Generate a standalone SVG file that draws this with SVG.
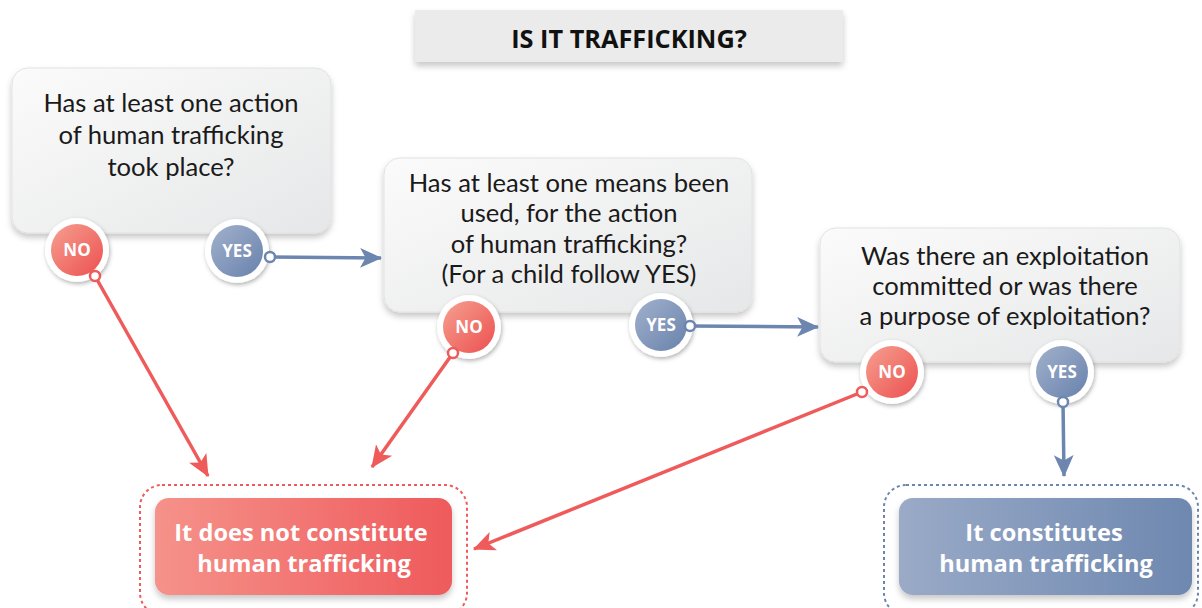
<svg xmlns="http://www.w3.org/2000/svg" width="1202" height="608" viewBox="0 0 1202 608">
<defs>
<linearGradient id="boxg" x1="0" y1="0" x2="1" y2="1"><stop offset="0" stop-color="#fbfbfb"/><stop offset="1" stop-color="#e6e7e8"/></linearGradient>
<linearGradient id="redc" x1="0" y1="0" x2="1" y2="1"><stop offset="0" stop-color="#f6a090"/><stop offset="1" stop-color="#ec5050"/></linearGradient>
<linearGradient id="bluec" x1="0" y1="0" x2="1" y2="1"><stop offset="0" stop-color="#a2b1cc"/><stop offset="1" stop-color="#6882ac"/></linearGradient>
<linearGradient id="redr" x1="0" y1="0" x2="1" y2="0"><stop offset="0" stop-color="#f5928a"/><stop offset="1" stop-color="#ef5a5c"/></linearGradient>
<linearGradient id="bluer" x1="0" y1="0" x2="1" y2="0"><stop offset="0" stop-color="#9aaac7"/><stop offset="1" stop-color="#6e88b0"/></linearGradient>
<filter id="sh" x="-20%" y="-20%" width="140%" height="150%"><feDropShadow dx="0" dy="4" stdDeviation="3" flood-color="#000" flood-opacity="0.22"/></filter>
<filter id="csh" x="-30%" y="-30%" width="160%" height="160%"><feDropShadow dx="1" dy="2" stdDeviation="2" flood-color="#000" flood-opacity="0.3"/></filter>
<marker id="ar" viewBox="0 0 10 10" refX="9.5" refY="5" markerWidth="22" markerHeight="22" markerUnits="userSpaceOnUse" orient="auto"><path d="M0,0.5 L10,5 L0,9.5 L2.5,5 Z" fill="#ef5a5a"/></marker>
<marker id="ab" viewBox="0 0 10 10" refX="9.5" refY="5" markerWidth="22" markerHeight="22" markerUnits="userSpaceOnUse" orient="auto"><path d="M0,0.5 L10,5 L0,9.5 L2.5,5 Z" fill="#6c86b0"/></marker>
</defs>
<style>
.q{font-family:Lato,"Open Sans",sans-serif;font-size:25.6px;fill:#1a1a1a;text-anchor:middle}
.r{font-family:"Open Sans",Lato,sans-serif;font-size:23.6px;font-weight:bold;fill:#fff;text-anchor:middle}
.c{font-family:"Open Sans",sans-serif;font-size:17px;font-weight:bold;fill:#fff;text-anchor:middle}
.box{fill:url(#boxg);stroke:#e2e2e2;stroke-width:1;filter:url(#sh)}
.ring{fill:#fff;filter:url(#csh)}
.lr{stroke:#ef5a5a;stroke-width:3.5;fill:none}
.lb{stroke:#6c86b0;stroke-width:3.5;fill:none}
.dr{fill:#fff;stroke:#ef5a5a;stroke-width:2.5}
.db{fill:#fff;stroke:#6c86b0;stroke-width:2.5}
</style>
<rect width="1202" height="608" fill="#fff"/>
<g id="title">
<rect x="415" y="10" width="428" height="52" fill="#ebebeb" filter="url(#sh)"/>
<text x="629" y="48" font-family="'Open Sans',sans-serif" font-size="25.3" font-weight="bold" fill="#111" text-anchor="middle">IS IT TRAFFICKING?</text>
</g>
<g id="q1">
<rect class="box" x="12" y="68" width="319" height="165" rx="16"/>
<text class="q" x="171" y="112">Has at least one action</text>
<text class="q" x="171" y="144">of human trafficking</text>
<text class="q" x="171" y="176">took place?</text>
</g>
<g id="q2">
<rect class="box" x="384" y="158" width="368" height="154" rx="16"/>
<text class="q" x="569" y="192">Has at least one means been</text>
<text class="q" x="569" y="222">used, for the action</text>
<text class="q" x="569" y="253">of human trafficking?</text>
<text class="q" x="569" y="283">(For a child follow YES)</text>
</g>
<g id="q3">
<rect class="box" x="820" y="228" width="360" height="134" rx="16"/>
<text class="q" x="1005" y="265">Was there an exploitation</text>
<text class="q" x="1005" y="295">committed or was there</text>
<text class="q" x="1005" y="325">a purpose of exploitation?</text>
</g>
<g id="res-no">
<rect x="140" y="485" width="327" height="130" rx="22" fill="none" stroke="#ef5a5a" stroke-width="2" stroke-dasharray="3,3"/>
<rect x="155" y="498" width="297" height="97" rx="14" fill="url(#redr)" filter="url(#sh)"/>
<text class="r" x="301" y="541">It does not constitute</text>
<text class="r" x="304" y="572">human trafficking</text>
</g>
<g id="res-yes">
<rect x="884" y="485" width="314" height="130" rx="22" fill="none" stroke="#6c86b0" stroke-width="2" stroke-dasharray="3,3"/>
<rect x="899" y="498" width="293" height="97" rx="14" fill="url(#bluer)" filter="url(#sh)"/>
<text class="r" x="1044" y="541">It constitutes</text>
<text class="r" x="1046" y="572">human trafficking</text>
</g>
<g id="connectors">
<line class="lb" x1="270" y1="257" x2="381" y2="258" marker-end="url(#ab)"/>
<line class="lb" x1="690" y1="326" x2="818" y2="327" marker-end="url(#ab)"/>
<line class="lb" x1="1063" y1="402" x2="1064" y2="476" marker-end="url(#ab)"/>
<line class="lr" x1="95" y1="276" x2="208" y2="476" marker-end="url(#ar)"/>
<line class="lr" x1="453" y1="353" x2="372" y2="467" marker-end="url(#ar)"/>
<line class="lr" x1="862" y1="392" x2="474" y2="549" marker-end="url(#ar)"/>
</g>
<g id="no1"><circle class="ring" cx="77" cy="250" r="32"/><circle cx="77" cy="250" r="26" fill="url(#redc)"/><text class="c" x="77" y="256">NO</text><circle class="dr" cx="95" cy="276" r="5"/></g>
<g id="yes1"><circle class="ring" cx="237" cy="251" r="32"/><circle cx="237" cy="251" r="26" fill="url(#bluec)"/><text class="c" x="237" y="257">YES</text><circle class="db" cx="270" cy="257" r="5"/></g>
<g id="no2"><circle class="ring" cx="469" cy="327" r="32"/><circle cx="469" cy="327" r="26" fill="url(#redc)"/><text class="c" x="469" y="333">NO</text><circle class="dr" cx="453" cy="353" r="5"/></g>
<g id="yes2"><circle class="ring" cx="661" cy="325" r="32"/><circle cx="661" cy="325" r="26" fill="url(#bluec)"/><text class="c" x="661" y="331">YES</text><circle class="db" cx="690" cy="326" r="5"/></g>
<g id="no3"><circle class="ring" cx="892" cy="372" r="32"/><circle cx="892" cy="372" r="26" fill="url(#redc)"/><text class="c" x="892" y="378">NO</text><circle class="dr" cx="862" cy="392" r="5"/></g>
<g id="yes3"><circle class="ring" cx="1062" cy="372" r="32"/><circle cx="1062" cy="372" r="26" fill="url(#bluec)"/><text class="c" x="1062" y="378">YES</text><circle class="db" cx="1063" cy="402" r="5"/></g>
</svg>
